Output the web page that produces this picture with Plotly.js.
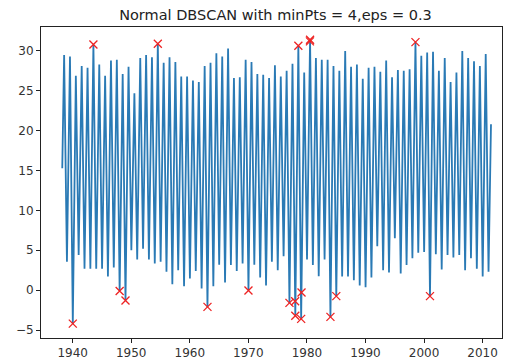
<!DOCTYPE html>
<html>
<head>
<meta charset="utf-8">
<script src="https://cdn.plot.ly/plotly-3.0.1.min.js"></script>
<style>html,body{margin:0;padding:0;background:#fff;}#chart{width:512px;height:361px;}</style>
</head>
<body>
<div id="chart"></div>
<script>
// Summer peak values per year (1938-2010)
const peakYears = [];
for (let y = 1938; y <= 2010; y++) peakYears.push(y);
const peakValues = [
  29.5, 29.3, 26.9, 28.1, 27.9, 30.8, 28.3, 26.9, 28.8, 28.9,
  27.1, 28.0, 24.7, 29.1, 29.5, 29.2, 30.9, 28.5, 29.2, 28.6,
  26.8, 26.8, 26.3, 26.1, 28.1, 28.5, 29.7, 29.3, 30.3, 26.6,
  26.7, 28.9, 28.6, 27.1, 27.0, 26.6, 28.2, 26.8, 27.5, 28.4,
  30.65, 27.3, 31.4, 29.1, 28.9, 28.9, 28.1, 27.5, 30.0, 28.0,
  28.3, 26.5, 27.9, 28.0, 27.4, 28.8, 26.7, 27.6, 27.5, 27.7,
  31.1, 29.4, 29.8, 29.9, 27.5, 29.1, 26.1, 27.3, 30.0, 29.1,
  28.7, 28.1, 29.6
];
// Winter trough values per year (1939-2011)
const troughYears = [];
for (let y = 1939; y <= 2011; y++) troughYears.push(y);
const troughValues = [
  3.55, -4.2, 4.4, 2.7, 2.7, 2.7, 2.7, 1.7, 2.85, -0.1,
  -1.3, 5.0, 3.85, 5.2, 3.85, 3.35, 3.55, 2.3, 0.75, 2.5,
  0.5, 1.45, 2.4, 0.2, -2.1, 0.5, 3.2, 0.95, 3.15, 2.4,
  3.35, -0.05, 3.2, 1.6, 0.6, 3.55, 2.5, 4.25, -1.6, -3.2,
  -3.6, 3.85, 3.15, 1.75, 3.85, -3.35, -0.75, 1.7, 1.7, 1.25,
  0.6, 0.35, 1.6, 5.5, 2.5, 2.2, 6.5, 2.1, 3.15, 4.0,
  4.7, 4.8, -0.75, 4.5, 2.6, 4.4, 4.1, 4.4, 2.5, 4.0,
  2.7, 1.7, 2.3
];
// first and last readings
const startTime = 1938.22, startValue = 15.3;
const endTime = 2011.44, endValue = 20.8;
// outliers flagged by DBSCAN
const outlierTimes = [1943.54, 1954.54, 1978.54, 1980.54, 1980.52, 1998.54,
  1940.02, 1948.02, 1949.02, 1963.02, 1970.02, 1977.02, 1977.99, 1978.02,
  1979.02, 1979.08, 1984.02, 1985.02, 2001.02];
const outlierValues = [30.8, 30.9, 30.65, 31.4, 31.2, 31.1,
  -4.2, -0.1, -1.3, -2.1, -0.05, -1.6, -1.4, -3.2,
  -3.6, -0.3, -3.35, -0.75, -0.75];

// assemble the series in time order
const xs = [startTime], ys = [startValue];
for (let i = 0; i < peakYears.length; i++) {
  xs.push(peakYears[i] + 0.54); ys.push(peakValues[i]);
  xs.push(troughYears[i] + 0.02); ys.push(troughValues[i]);
}
xs.push(endTime); ys.push(endValue);

const fontFam = 'DejaVu Sans, sans-serif';
const data = [
  {x: xs, y: ys, type: 'scatter', mode: 'lines',
   line: {color: '#2a7ab5', width: 1.8}, hoverinfo: 'skip'},
  {x: outlierTimes, y: outlierValues, type: 'scatter', mode: 'markers',
   marker: {symbol: 'x-thin', size: 8, line: {color: '#ee2222', width: 1.3}, color: '#ee2222'}}
];
const layout = {
  width: 512, height: 361,
  margin: {l: 41, r: 10, t: 27, b: 23},
  paper_bgcolor: '#fff', plot_bgcolor: '#fff',
  showlegend: false,
  title: {text: 'Normal DBSCAN with minPts = 4,eps = 0.3',
          font: {family: fontFam, size: 14.5, color: '#222'},
          x: 0.538, xanchor: 'center', y: 0.958, yanchor: 'middle'},
  xaxis: {range: [1934.59, 2013.32], tickvals: [1940, 1950, 1960, 1970, 1980, 1990, 2000, 2010],
          showgrid: false, zeroline: false, showline: true, mirror: true, linecolor: '#222', linewidth: 1,
          ticks: 'outside', ticklen: 4, tickcolor: '#222', tickfont: {family: fontFam, size: 12, color: '#333'}},
  yaxis: {range: [-6.0, 33.0], tickvals: [-5, 0, 5, 10, 15, 20, 25, 30],
          showgrid: false, zeroline: false, showline: true, mirror: true, linecolor: '#222', linewidth: 1,
          ticks: 'outside', ticklen: 4, tickcolor: '#222', tickfont: {family: fontFam, size: 12, color: '#333'}}
};
Plotly.newPlot('chart', data, layout, {displayModeBar: false, staticPlot: true});
</script>
</body>
</html>
